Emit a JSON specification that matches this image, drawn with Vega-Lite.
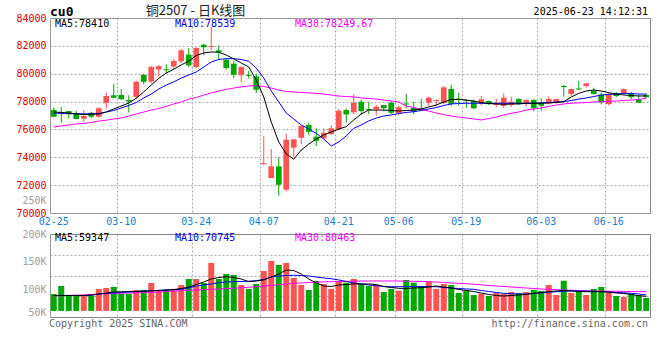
{
  "$schema": "https://vega.github.io/schema/vega-lite/v6.json",
  "autosize": {"type": "none"},
  "padding": {"left": 50, "top": 18, "right": 610, "bottom": 342},
  "background": "white",
  "spacing": 21,
  "bounds": "flush",
  "config": {
    "view": {"stroke": "#888", "strokeWidth": 1},
    "axis": {"labelFont": "DejaVu Sans Mono", "labelFontSize": 10, "gridColor": "#aaa", "gridDash": [2, 2], "gridWidth": 1, "ticks": false, "domain": false, "title": null, "labelOverlap": false},
    "text": {"font": "DejaVu Sans Mono", "fontSize": 10}
  },
  "datasets": {
    "k": [
      {"d":"02-25","o":77390,"h":77560,"l":76870,"c":76910,"v":91600,"m5":77250,"m10":77180,"m30":76170,"vm5":88900,"vm10":88900,"vm30":88000},
      {"d":"02-26","o":77180,"h":77610,"l":76480,"c":77110,"v":106000,"m5":77220,"m10":77160,"m30":76250,"vm5":88900,"vm10":88900,"vm30":88300},
      {"d":"02-27","o":77320,"h":77330,"l":76800,"c":77080,"v":89200,"m5":77180,"m10":77140,"m30":76320,"vm5":88900,"vm10":88900,"vm30":88900},
      {"d":"02-28","o":77110,"h":77340,"l":76730,"c":76750,"v":89200,"m5":77110,"m10":77130,"m30":76390,"vm5":88900,"vm10":88900,"vm30":89400},
      {"d":"03-03","o":76770,"h":77390,"l":76530,"c":76960,"v":88000,"m5":77070,"m10":77120,"m30":76430,"vm5":88900,"vm10":88900,"vm30":89800},
      {"d":"03-04","o":77200,"h":77270,"l":76800,"c":76910,"v":88000,"m5":77090,"m10":77120,"m30":76500,"vm5":89800,"vm10":88900,"vm30":90700},
      {"d":"03-05","o":76910,"h":77610,"l":76860,"c":77520,"v":100600,"m5":77110,"m10":77140,"m30":76600,"vm5":91600,"vm10":91600,"vm30":91600},
      {"d":"03-06","o":77900,"h":78650,"l":77500,"c":78400,"v":102400,"m5":77250,"m10":77250,"m30":76660,"vm5":93400,"vm10":92500,"vm30":92100},
      {"d":"03-07","o":78460,"h":79270,"l":78270,"c":78270,"v":104200,"m5":77470,"m10":77360,"m30":76750,"vm5":95200,"vm10":93400,"vm30":92500},
      {"d":"03-10","o":78470,"h":78900,"l":78110,"c":78180,"v":91600,"m5":77680,"m10":77540,"m30":76820,"vm5":95700,"vm10":94300,"vm30":92800},
      {"d":"03-11","o":78110,"h":78450,"l":77220,"c":78000,"v":91600,"m5":77900,"m10":77720,"m30":76960,"vm5":95700,"vm10":95200,"vm30":93400},
      {"d":"03-12","o":78340,"h":79500,"l":78200,"c":79420,"v":98800,"m5":78240,"m10":77930,"m30":77110,"vm5":96100,"vm10":96100,"vm30":93700},
      {"d":"03-13","o":79920,"h":79980,"l":79260,"c":79420,"v":98800,"m5":78690,"m10":78260,"m30":77250,"vm5":96600,"vm10":97000,"vm30":93900},
      {"d":"03-14","o":79440,"h":80550,"l":79310,"c":80490,"v":111500,"m5":79190,"m10":78540,"m30":77390,"vm5":97000,"vm10":97500,"vm30":94300},
      {"d":"03-17","o":80300,"h":80630,"l":79800,"c":80540,"v":98800,"m5":79670,"m10":78900,"m30":77500,"vm5":97900,"vm10":98300,"vm30":95200},
      {"d":"03-18","o":80320,"h":80670,"l":80000,"c":80250,"v":98800,"m5":80050,"m10":79190,"m30":77650,"vm5":98800,"vm10":98800,"vm30":96100},
      {"d":"03-19","o":80520,"h":81050,"l":80300,"c":80920,"v":100600,"m5":80320,"m10":79410,"m30":77830,"vm5":99700,"vm10":99400,"vm30":97000},
      {"d":"03-20","o":80890,"h":81770,"l":80770,"c":81680,"v":107800,"m5":80630,"m10":79690,"m30":77970,"vm5":101500,"vm10":100100,"vm30":97500},
      {"d":"03-21","o":81370,"h":81850,"l":80480,"c":80600,"v":118700,"m5":80910,"m10":79910,"m30":78180,"vm5":104200,"vm10":102400,"vm30":98300},
      {"d":"03-24","o":80480,"h":81900,"l":80400,"c":81850,"v":118700,"m5":81310,"m10":80120,"m30":78290,"vm5":108700,"vm10":106000,"vm30":98800},
      {"d":"03-25","o":82080,"h":82150,"l":81320,"c":81900,"v":111500,"m5":81490,"m10":80480,"m30":78470,"vm5":113300,"vm10":107800,"vm30":99400},
      {"d":"03-26","o":81920,"h":83350,"l":81680,"c":81990,"v":147600,"m5":81560,"m10":80840,"m30":78620,"vm5":118700,"vm10":109700,"vm30":100100},
      {"d":"03-27","o":81680,"h":82030,"l":81000,"c":81540,"v":118700,"m5":81540,"m10":81020,"m30":78760,"vm5":121400,"vm10":112000,"vm30":100600},
      {"d":"03-28","o":81000,"h":81110,"l":80290,"c":80410,"v":127700,"m5":81340,"m10":81080,"m30":78870,"vm5":122800,"vm10":113300,"vm30":101200},
      {"d":"03-31","o":80720,"h":80930,"l":79690,"c":79930,"v":125900,"m5":81060,"m10":81080,"m30":78970,"vm5":121400,"vm10":113800,"vm30":101900},
      {"d":"04-01","o":79890,"h":80530,"l":79400,"c":80480,"v":107800,"m5":80770,"m10":81020,"m30":79050,"vm5":118700,"vm10":114200,"vm30":103000},
      {"d":"04-02","o":79920,"h":80210,"l":79650,"c":79850,"v":100600,"m5":80480,"m10":80890,"m30":79120,"vm5":113800,"vm10":114700,"vm30":103700},
      {"d":"04-03","o":79810,"h":80000,"l":78600,"c":78850,"v":109700,"m5":79550,"m10":80410,"m30":79140,"vm5":115100,"vm10":115600,"vm30":104800},
      {"d":"04-07","o":73500,"h":75510,"l":73480,"c":73580,"v":133100,"m5":78330,"m10":79690,"m30":79080,"vm5":116900,"vm10":117800,"vm30":106000},
      {"d":"04-08","o":72510,"h":74600,"l":72510,"c":73350,"v":151200,"m5":76530,"m10":78760,"m30":78970,"vm5":122300,"vm10":122300,"vm30":106900},
      {"d":"04-09","o":73350,"h":74000,"l":71250,"c":72030,"v":144000,"m5":75100,"m10":77970,"m30":78830,"vm5":127700,"vm10":124100,"vm30":108400},
      {"d":"04-10","o":71670,"h":75670,"l":71560,"c":75260,"v":147600,"m5":74240,"m10":77180,"m30":78720,"vm5":134900,"vm10":125000,"vm30":109700},
      {"d":"04-11","o":74690,"h":75300,"l":74040,"c":75290,"v":120500,"m5":73860,"m10":76750,"m30":78690,"vm5":134000,"vm10":125400,"vm30":110900},
      {"d":"04-14","o":75400,"h":76260,"l":74950,"c":76250,"v":107800,"m5":74520,"m10":76320,"m30":78650,"vm5":127700,"vm10":125000,"vm30":111500},
      {"d":"04-15","o":76320,"h":76500,"l":75600,"c":75840,"v":98800,"m5":74950,"m10":76030,"m30":78620,"vm5":118700,"vm10":124100,"vm30":112400},
      {"d":"04-16","o":75480,"h":76080,"l":74810,"c":75190,"v":115100,"m5":75310,"m10":75720,"m30":78590,"vm5":111500,"vm10":122300,"vm30":112900},
      {"d":"04-17","o":75360,"h":76080,"l":75290,"c":75760,"v":109700,"m5":75600,"m10":75310,"m30":78540,"vm5":106000,"vm10":120500,"vm30":113600},
      {"d":"04-18","o":75670,"h":76300,"l":75600,"c":76080,"v":100600,"m5":75820,"m10":74810,"m30":78470,"vm5":105100,"vm10":119200,"vm30":113800},
      {"d":"04-21","o":76030,"h":77460,"l":75930,"c":77340,"v":113800,"m5":76030,"m10":75100,"m30":78400,"vm5":107800,"vm10":116900,"vm30":114200},
      {"d":"04-22","o":77390,"h":77500,"l":76480,"c":77080,"v":112000,"m5":76200,"m10":75530,"m30":78360,"vm5":108700,"vm10":114200,"vm30":114500},
      {"d":"04-23","o":77230,"h":78540,"l":77110,"c":77920,"v":118700,"m5":76680,"m10":76080,"m30":78330,"vm5":109700,"vm10":111500,"vm30":114700},
      {"d":"04-24","o":77990,"h":78150,"l":77090,"c":77320,"v":109700,"m5":77110,"m10":76320,"m30":78260,"vm5":109700,"vm10":109700,"vm30":115100},
      {"d":"04-25","o":77460,"h":78000,"l":77100,"c":77400,"v":106000,"m5":77390,"m10":76610,"m30":78220,"vm5":109700,"vm10":107800,"vm30":115100},
      {"d":"04-28","o":77450,"h":77750,"l":76990,"c":77630,"v":107800,"m5":77390,"m10":76820,"m30":78180,"vm5":108700,"vm10":106600,"vm30":115100},
      {"d":"04-29","o":77750,"h":77760,"l":77300,"c":77520,"v":95200,"m5":77390,"m10":76960,"m30":78110,"vm5":105100,"vm10":105100,"vm30":115100},
      {"d":"04-30","o":77920,"h":78000,"l":77110,"c":77200,"v":100600,"m5":77360,"m10":77040,"m30":78040,"vm5":103300,"vm10":104800,"vm30":115100},
      {"d":"05-06","o":77160,"h":77700,"l":77000,"c":77590,"v":97500,"m5":77320,"m10":77140,"m30":77970,"vm5":101900,"vm10":104800,"vm30":115100},
      {"d":"05-07","o":77860,"h":78540,"l":77520,"c":77790,"v":116900,"m5":77360,"m10":77220,"m30":77680,"vm5":101500,"vm10":104800,"vm30":114700},
      {"d":"05-08","o":77560,"h":78000,"l":77100,"c":77270,"v":112000,"m5":77390,"m10":77270,"m30":77580,"vm5":102400,"vm10":104800,"vm30":114500},
      {"d":"05-09","o":77520,"h":78200,"l":77390,"c":77400,"v":106000,"m5":77470,"m10":77360,"m30":77430,"vm5":103000,"vm10":104800,"vm30":114200},
      {"d":"05-12","o":77920,"h":78350,"l":77660,"c":78280,"v":114500,"m5":77610,"m10":77470,"m30":77320,"vm5":104200,"vm10":104800,"vm30":113800},
      {"d":"05-13","o":78050,"h":78150,"l":77640,"c":78120,"v":100600,"m5":77750,"m10":77570,"m30":77180,"vm5":106000,"vm10":104800,"vm30":113300},
      {"d":"05-14","o":77890,"h":79120,"l":77800,"c":79020,"v":109700,"m5":77970,"m10":77720,"m30":77070,"vm5":104200,"vm10":103300,"vm30":112400},
      {"d":"05-15","o":78900,"h":79200,"l":77700,"c":77830,"v":107800,"m5":78150,"m10":77830,"m30":76960,"vm5":102400,"vm10":102400,"vm30":111500},
      {"d":"05-16","o":78200,"h":78650,"l":77700,"c":78120,"v":93400,"m5":78160,"m10":77860,"m30":76890,"vm5":99700,"vm10":101500,"vm30":110900},
      {"d":"05-19","o":78100,"h":78150,"l":77550,"c":78030,"v":97500,"m5":78110,"m10":77880,"m30":76820,"vm5":97900,"vm10":100600,"vm30":110200},
      {"d":"05-20","o":78040,"h":78150,"l":77450,"c":77520,"v":89800,"m5":78040,"m10":77880,"m30":76750,"vm5":96100,"vm10":100100,"vm30":109100},
      {"d":"05-21","o":77870,"h":78400,"l":77720,"c":78160,"v":92100,"m5":77920,"m10":77880,"m30":76680,"vm5":93400,"vm10":97900,"vm30":108200},
      {"d":"05-22","o":78040,"h":78080,"l":77750,"c":77820,"v":88000,"m5":77860,"m10":77880,"m30":76780,"vm5":90700,"vm10":96100,"vm30":106900},
      {"d":"05-23","o":77760,"h":78200,"l":77600,"c":77880,"v":93400,"m5":77830,"m10":77880,"m30":76890,"vm5":88900,"vm10":94300,"vm30":106000},
      {"d":"05-26","o":77680,"h":78590,"l":77540,"c":78280,"v":91600,"m5":77800,"m10":77880,"m30":77040,"vm5":88000,"vm10":92800,"vm30":105100},
      {"d":"05-27","o":77750,"h":78350,"l":77600,"c":77990,"v":95200,"m5":77830,"m10":77880,"m30":77160,"vm5":88900,"vm10":92100,"vm30":104200},
      {"d":"05-28","o":78180,"h":78260,"l":77750,"c":77820,"v":93400,"m5":77830,"m10":77880,"m30":77250,"vm5":89800,"vm10":91600,"vm30":103300},
      {"d":"05-29","o":77870,"h":78180,"l":77650,"c":78110,"v":95200,"m5":77880,"m10":77880,"m30":77390,"vm5":90700,"vm10":91600,"vm30":102400},
      {"d":"05-30","o":78110,"h":78200,"l":77300,"c":77520,"v":98800,"m5":77880,"m10":77880,"m30":77470,"vm5":92800,"vm10":92500,"vm30":101500},
      {"d":"06-03","o":77900,"h":78250,"l":77340,"c":77700,"v":97000,"m5":77880,"m10":77900,"m30":77540,"vm5":94300,"vm10":93400,"vm30":100600},
      {"d":"06-04","o":77870,"h":78350,"l":77790,"c":78180,"v":107800,"m5":77900,"m10":77930,"m30":77650,"vm5":95700,"vm10":94700,"vm30":100100},
      {"d":"06-05","o":77950,"h":78200,"l":77850,"c":78180,"v":89800,"m5":77930,"m10":77970,"m30":77750,"vm5":97000,"vm10":95700,"vm30":99400},
      {"d":"06-06","o":79120,"h":79190,"l":78350,"c":79050,"v":115600,"m5":77990,"m10":77990,"m30":77830,"vm5":97900,"vm10":96500,"vm30":98800},
      {"d":"06-09","o":78550,"h":78950,"l":78400,"c":78900,"v":93400,"m5":78330,"m10":78080,"m30":77880,"vm5":97000,"vm10":97000,"vm30":98300},
      {"d":"06-10","o":78940,"h":79480,"l":78830,"c":78870,"v":97000,"m5":78590,"m10":78180,"m30":77900,"vm5":96100,"vm10":97000,"vm30":97900},
      {"d":"06-11","o":79120,"h":79330,"l":79000,"c":79310,"v":89800,"m5":78760,"m10":78260,"m30":77930,"vm5":95700,"vm10":97000,"vm30":97400},
      {"d":"06-12","o":78780,"h":79000,"l":78500,"c":78540,"v":100600,"m5":78830,"m10":78360,"m30":77970,"vm5":95700,"vm10":96500,"vm30":97000},
      {"d":"06-13","o":78500,"h":78650,"l":77800,"c":77950,"v":104200,"m5":78760,"m10":78470,"m30":77990,"vm5":95700,"vm10":95700,"vm30":96800},
      {"d":"06-16","o":77820,"h":78600,"l":77720,"c":78540,"v":95200,"m5":78640,"m10":78520,"m30":78020,"vm5":95200,"vm10":95200,"vm30":96600},
      {"d":"06-17","o":78590,"h":78700,"l":78300,"c":78400,"v":88000,"m5":78540,"m10":78540,"m30":78040,"vm5":93400,"vm10":94300,"vm30":96500},
      {"d":"06-18","o":78590,"h":78950,"l":78500,"c":78900,"v":86200,"m5":78470,"m10":78590,"m30":78080,"vm5":92500,"vm10":93900,"vm30":96300},
      {"d":"06-19","o":78590,"h":78700,"l":78150,"c":78310,"v":91600,"m5":78440,"m10":78580,"m30":78110,"vm5":90700,"vm10":92800,"vm30":96100},
      {"d":"06-20","o":78160,"h":78500,"l":77920,"c":77920,"v":89800,"m5":78400,"m10":78540,"m30":78150,"vm5":88500,"vm10":91600,"vm30":95900},
      {"d":"06-23","o":78470,"h":78580,"l":78270,"c":78310,"v":84400,"m5":78410,"m10":78539,"m30":78250,"vm5":87400,"vm10":89800,"vm30":95700}
    ]
  },
  "vconcat": [
    {
      "width": 600,
      "height": 195,
      "data": {"name": "k"},
      "encoding": {
        "x": {
          "field": "d", "type": "ordinal", "sort": "ascending",
          "scale": {"paddingInner": 0, "paddingOuter": 0},
          "axis": {
            "values": ["02-25","03-10","03-24","04-07","04-21","05-06","05-19","06-03","06-16"],
            "bandPosition": 0, "labelAngle": 0, "labelColor": "#1a7fd0", "labelPadding": 3,
            "labelFlush": false, "labelOverlap": false, "grid": true
          }
        }
      },
      "layer": [
        {
          "mark": {"type": "rule", "strokeWidth": 1},
          "encoding": {
            "y": {
              "field": "l", "type": "quantitative",
              "scale": {"domain": [70000, 84000], "nice": false, "zero": false},
              "axis": {
                "values": [70000, 70930, 72000, 74000, 76000, 78000, 80000, 82000, 84000],
                "tickCount": 30,
                "format": "d",
                "labelExpr": "datum.value == 70930 ? '250K' : datum.label",
                "labelColor": {"condition": {"test": "datum.value == 70930", "value": "#a0a0a0"}, "value": "#dd0000"},
                "gridOpacity": {"condition": {"test": "datum.value == 70930", "value": 0}, "value": 1},
                "labelPadding": 4, "labelFlush": false, "labelOverlap": false, "grid": true
              }
            },
            "y2": {"field": "h"},
            "color": {"condition": {"test": "datum.c >= datum.o", "value": "#ff5353"}, "value": "#00a800"}
          }
        },
        {
          "mark": {"type": "bar", "width": {"band": 0.76}},
          "encoding": {
            "y": {"field": "o", "type": "quantitative"},
            "y2": {"field": "c"},
            "color": {"condition": {"test": "datum.c >= datum.o", "value": "#ff5353"}, "value": "#00a800"}
          }
        },
        {"mark": {"type": "line", "strokeWidth": 1, "color": "#ff00ff"}, "encoding": {"y": {"field": "m30", "type": "quantitative"}}},
        {"mark": {"type": "line", "strokeWidth": 1, "color": "#0000ff"}, "encoding": {"y": {"field": "m10", "type": "quantitative"}}},
        {"mark": {"type": "line", "strokeWidth": 1, "color": "#000000"}, "encoding": {"y": {"field": "m5", "type": "quantitative"}}},
        {
          "data": {"values": [{"t": "MA5:78410"}]},
          "mark": {"type": "text", "align": "left", "baseline": "middle", "dx": 5, "color": "#000000"},
          "encoding": {"text": {"field": "t"}, "x": {"datum": "02-25", "type": "ordinal", "bandPosition": 0}, "y": {"datum": 83570}}
        },
        {
          "data": {"values": [{"t": "MA10:78539"}]},
          "mark": {"type": "text", "align": "left", "baseline": "middle", "dx": 5, "color": "#0000ff"},
          "encoding": {"text": {"field": "t"}, "x": {"datum": "03-19", "type": "ordinal", "bandPosition": 0}, "y": {"datum": 83570}}
        },
        {
          "data": {"values": [{"t": "MA30:78249.67"}]},
          "mark": {"type": "text", "align": "left", "baseline": "middle", "dx": 5, "color": "#ff00ff"},
          "encoding": {"text": {"field": "t"}, "x": {"datum": "04-11", "type": "ordinal", "bandPosition": 0}, "y": {"datum": 83570}}
        },
        {
          "data": {"values": [{"t": "cu0"}]},
          "mark": {"type": "text", "align": "left", "baseline": "middle", "dx": 0, "fontSize": 13, "fontWeight": "bold", "color": "#000000"},
          "encoding": {"text": {"field": "t"}, "x": {"datum": "02-25", "type": "ordinal", "bandPosition": 0}, "y": {"datum": 84460}}
        },
        {
          "data": {"values": [{"t": "铜2507 - 日K线图"}]},
          "mark": {"type": "text", "align": "center", "baseline": "middle", "dx": 3, "font": "Noto Sans CJK SC", "fontSize": 13, "color": "#222222"},
          "encoding": {"text": {"field": "t"}, "x": {"datum": "03-24", "type": "ordinal", "bandPosition": 0}, "y": {"datum": 84500}}
        },
        {
          "data": {"values": [{"t": "2025-06-23 14:12:31"}]},
          "mark": {"type": "text", "align": "right", "baseline": "middle", "dx": -2, "color": "#000000"},
          "encoding": {"text": {"field": "t"}, "x": {"datum": "06-23", "type": "ordinal", "bandPosition": 1}, "y": {"datum": 84430}}
        }
      ]
    },
    {
      "width": 600,
      "height": 83,
      "data": {"name": "k"},
      "encoding": {
        "x": {
          "field": "d", "type": "ordinal", "sort": "ascending",
          "scale": {"paddingInner": 0, "paddingOuter": 0},
          "axis": {
            "values": ["02-25","03-10","03-24","04-07","04-21","05-06","05-19","06-03","06-16"],
            "bandPosition": 0, "labels": false, "grid": true
          }
        }
      },
      "layer": [
        {
          "mark": {"type": "bar", "width": {"band": 0.8}},
          "encoding": {
            "y": {
              "field": "v", "type": "quantitative",
              "scale": {"domain": [50000, 200000], "nice": false, "zero": false},
              "axis": {
                "values": [50000, 87500, 100000, 125000, 150000, 162500, 200000],
                "tickCount": 30,
                "labelExpr": "datum.value % 50000 == 0 ? (datum.value / 1000) + 'K' : ''",
                "labelColor": "#a0a0a0",
                "labelBaseline": {"condition": {"test": "datum.value == 50000", "value": "bottom"}, "value": "middle"},
                "gridOpacity": {"condition": {"test": "datum.value % 50000 == 0", "value": 0}, "value": 1},
                "labelPadding": 4, "labelFlush": false, "labelOverlap": false, "grid": true
              }
            },
            "y2": {"datum": 61000},
            "color": {"condition": {"test": "datum.c >= datum.o", "value": "#ff5353"}, "value": "#00a800"}
          }
        },
        {"mark": {"type": "line", "strokeWidth": 1, "color": "#ff00ff"}, "encoding": {"y": {"field": "vm30", "type": "quantitative"}}},
        {"mark": {"type": "line", "strokeWidth": 1, "color": "#0000ff"}, "encoding": {"y": {"field": "vm10", "type": "quantitative"}}},
        {"mark": {"type": "line", "strokeWidth": 1, "color": "#000000"}, "encoding": {"y": {"field": "vm5", "type": "quantitative"}}},
        {
          "data": {"values": [{"t": "MA5:59347"}]},
          "mark": {"type": "text", "align": "left", "baseline": "middle", "dx": 5, "color": "#000000"},
          "encoding": {"text": {"field": "t"}, "x": {"datum": "02-25", "type": "ordinal", "bandPosition": 0}, "y": {"datum": 192800}}
        },
        {
          "data": {"values": [{"t": "MA10:70745"}]},
          "mark": {"type": "text", "align": "left", "baseline": "middle", "dx": 5, "color": "#0000ff"},
          "encoding": {"text": {"field": "t"}, "x": {"datum": "03-19", "type": "ordinal", "bandPosition": 0}, "y": {"datum": 192800}}
        },
        {
          "data": {"values": [{"t": "MA30:80463"}]},
          "mark": {"type": "text", "align": "left", "baseline": "middle", "dx": 5, "color": "#ff00ff"},
          "encoding": {"text": {"field": "t"}, "x": {"datum": "04-11", "type": "ordinal", "bandPosition": 0}, "y": {"datum": 192800}}
        },
        {
          "data": {"values": [{"t": "Copyright 2025 SINA.COM"}]},
          "mark": {"type": "text", "align": "left", "baseline": "middle", "dx": -1, "color": "#666666"},
          "encoding": {"text": {"field": "t"}, "x": {"datum": "02-25", "type": "ordinal", "bandPosition": 0}, "y": {"datum": 37000}}
        },
        {
          "data": {"values": [{"t": "http://finance.sina.com.cn"}]},
          "mark": {"type": "text", "align": "right", "baseline": "middle", "dx": -2, "color": "#666666"},
          "encoding": {"text": {"field": "t"}, "x": {"datum": "06-23", "type": "ordinal", "bandPosition": 1}, "y": {"datum": 37000}}
        }
      ]
    }
  ]
}
